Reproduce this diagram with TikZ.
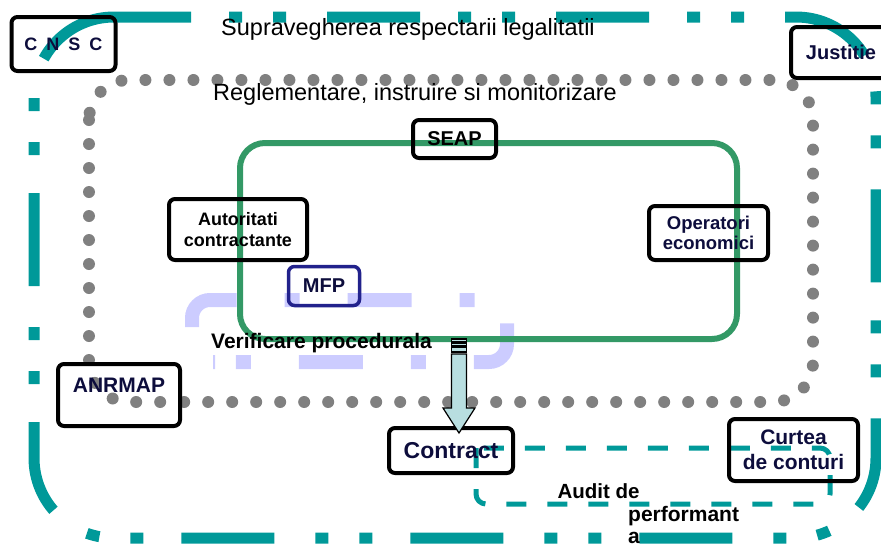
\documentclass[tikz,border=0pt]{standalone}
\usepackage{fontspec}
\setmainfont{Liberation Sans}
\usetikzlibrary{calc,positioning}
\definecolor{tealc}{RGB}{0,153,153}
\definecolor{greenc}{RGB}{51,153,102}
\definecolor{lavc}{RGB}{204,204,255}
\definecolor{navyt}{RGB}{13,13,60}
\definecolor{mfpc}{RGB}{34,34,140}
\definecolor{arrowc}{RGB}{184,222,224}
\newcommand{\fsz}[2]{\fontsize{#1}{#2}\selectfont}
\tikzset{
  box/.style      = {draw, line width=4pt, rounded corners=6pt, inner sep=0pt, align=center, text=navyt},
  plain/.style    = {inner sep=0pt, align=center},
  outerline/.style = {tealc, line width=11pt, rounded corners=80pt, dash pattern=on 93pt off 38pt on 13pt off 31pt on 13pt off 41pt, dash phase=22pt},
  dotline/.style  = {gray, line width=12pt, line cap=round, rounded corners=40pt, dash pattern=on 0pt off 24pt},
  greenline/.style = {greenc, line width=6pt, rounded corners=25pt},
  lavline/.style  = {lavc, line width=14pt, rounded corners=18pt, dash pattern=on 64pt off 48pt on 15pt off 48pt, dash phase=125pt},
  auditline/.style = {tealc, line width=5pt, rounded corners=10pt, dash pattern=on 20pt off 21pt},
  blockarrow/.style = {draw=black, fill=arrowc, line width=1.2pt},
}
\begin{document}
\begin{tikzpicture}[x=1pt,y=-1pt]
  \useasboundingbox (0,0) rectangle (881,544);
  \draw[lavline] (215,362) -- (192,362) -- (192,300) -- (507,300) -- (507,362) -- (215,362);
  \draw[greenline] (240,143) rectangle (737,339);
  \draw[dotline] (89,80) rectangle (813,402);
  \draw[outerline] (120,17) -- (876,17) -- (876,538) -- (34,538) -- (34,17) -- (120,17);
  \draw[auditline] (476,448) -- (476,504) -- (830,504) -- (830,448) -- (476,448);

  \node[box, minimum width=104pt, minimum height=54pt, font=\fsz{18}{22}\bfseries] (cnsc) at (63.5,44) {C\hspace{.5em}N\hspace{.5em}S\hspace{.5em}C};
  \node[box, minimum width=100pt, minimum height=51pt, font=\fsz{20}{24}\bfseries] (justitie) at (841,52.5) {Justitie};
  \node[box, minimum width=83pt, minimum height=38pt, text=black, font=\fsz{20}{24}\bfseries] (seap) at (454.5,139) {SEAP};
  \node[box, minimum width=138pt, minimum height=61pt, text=black, font=\fsz{18}{20.5}\bfseries] (autoritati) at (238,229.5) {Autoritati\\contractante};
  \node[box, draw=mfpc, line width=3.5pt, minimum width=71pt, minimum height=39pt, font=\fsz{20}{24}\bfseries] (mfp) at (324,286) {MFP};
  \node[box, minimum width=119pt, minimum height=54pt, font=\fsz{18.5}{20.5}\bfseries] (operatori) at (708.5,233) {Operatori\\economici};
  \node[box, minimum width=122pt, minimum height=62pt, text height=15pt, text depth=21pt, font=\fsz{21}{25}\bfseries] (anrmap) at (119,395) {ANRMAP};
  \node[box, minimum width=124pt, minimum height=45pt, font=\fsz{23}{27}\bfseries] (contract) at (451,450.5) {Contract};
  \node[box, minimum width=129pt, minimum height=62pt, font=\fsz{21}{25}\bfseries] (curtea) at (793.5,450) {Curtea\\de conturi};

  \node[plain, anchor=base, font=\fsz{23.5}{27}] (superv) at (408,35) {Supravegherea respectarii legalitatii};
  \node[plain, anchor=base, font=\fsz{23.5}{27}] (reglem) at (415,100) {Reglementare, instruire si monitorizare};
  \node[plain, anchor=base, font=\fsz{21}{25}\bfseries] (verif) at (321.5,348) {Verificare procedurala};
  \node[plain, anchor=base, font=\fsz{20.5}{23}\bfseries] (audit) at (598.5,498) {Audit de};
  \node[plain, anchor=north west, align=left, font=\fsz{21}{22}\bfseries] (perf) at (628,506) {performant\\a};

  \coordinate (vtop) at (459,339);
  \coordinate (vtip) at ($(vtop |- contract.north)+(0,7)$);
  \draw[blockarrow] ($(vtop)+(-7.5,0)$) rectangle ($(vtop)+(7.5,2.5)$);
  \draw[blockarrow] ($(vtop)+(-7.5,4)$) rectangle ($(vtop)+(7.5,6.5)$);
  \draw[blockarrow] ($(vtop)+(-7.5,8)$) rectangle ($(vtop)+(7.5,13)$);
  \draw[blockarrow] ($(vtop)+(-7.5,15)$) -- ($(vtip)+(-7.5,-25)$) -- ($(vtip)+(-16,-25)$) -- (vtip)
    -- ($(vtip)+(16,-25)$) -- ($(vtip)+(7.5,-25)$) -- ($(vtop)+(7.5,15)$) -- cycle;
\end{tikzpicture}
\end{document}
